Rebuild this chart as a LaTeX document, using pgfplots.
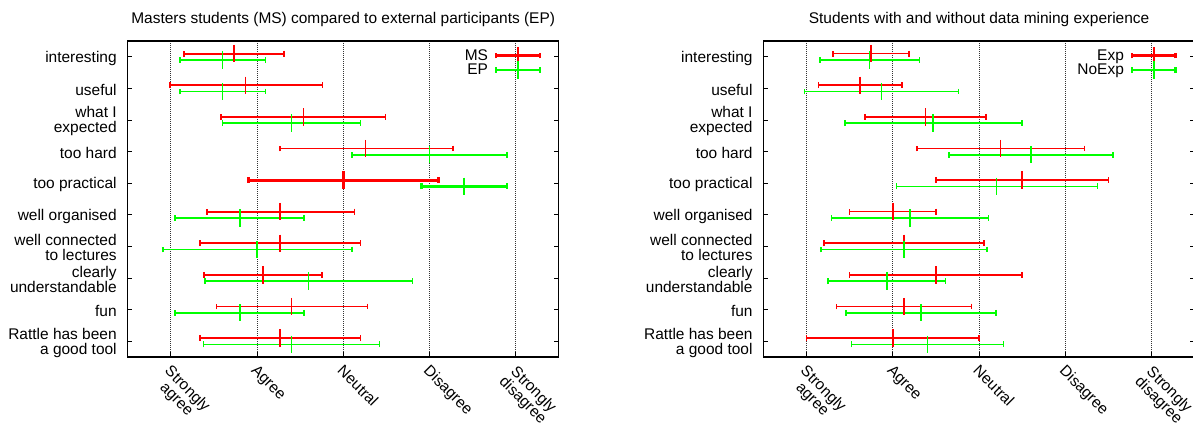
\documentclass[border=0pt]{standalone}
\usepackage{pgfplots}
\pgfplotsset{compat=1.18}
\usepackage{fontspec}
\setmainfont{Liberation Sans}
\definecolor{ebred}{RGB}{255,0,0}
\definecolor{ebgreen}{RGB}{0,255,0}
\newcommand{\lf}{\fontsize{11.6pt}{11.3pt}\selectfont}
\pgfplotsset{
  eb/.style 2 args={forget plot, color=#1, only marks, mark=|, mark size=6.5pt,
    line width=#2, mark options={solid, line width=#2, color=#1},
    error bars/.cd, x dir=both, x explicit, error mark=|,
    error bar style={line width=#2, color=#1},
    error mark options={mark size=2.2pt, line width=#2, color=#1}},
  legeb/.style={color=#1, legend image code/.code={
      \draw[line width=1.8pt,#1] (0pt,0.3pt) -- (32.6pt,0.3pt);
      \draw[line width=1.8pt,#1] (0pt,-1.9pt) -- (0pt,2.5pt);
      \draw[line width=1.8pt,#1] (32.6pt,-1.9pt) -- (32.6pt,2.5pt);
      \draw[line width=1.8pt,#1] (16.3pt,-6.2pt) -- (16.3pt,6.8pt);}},
  common/.style={
    width=323.6pt, height=237pt, scale only axis, anchor=south west,
    xmin=0.5, xmax=5.5, ymin=0.5, ymax=10.5, y dir=reverse,
    xtick={1,2,3,4,5},
    xticklabels={{Strongly\\agree},Agree,Neutral,Disagree,{Strongly\\disagree}},
    ytick={1,2,3,4,5,6,7,8,9,10},
    yticklabels={interesting,useful,{what I\\expected},too hard,too practical,well organised,{well connected\\to lectures},{clearly\\understandable},fun,{Rattle has been\\a good tool}},
    xtick pos=left, ytick pos=both, yticklabel pos=left,
    tick align=inside, major tick length=3.75pt,
    tick style={black, line width=0.6pt},
    xmajorgrids, grid style={black!80, line width=0.6pt, dash pattern=on 0.75pt off 0.75pt},
    axis line style={line width=0.8pt},
    yticklabel style={font=\lf, align=right, inner sep=0pt, xshift=-7.9pt, yshift=-1pt},
    xticklabel style={font=\lf, align=center, inner sep=0pt, yshift=-5pt, xshift=1pt, rotate=-45, anchor=north west},
    title style={font=\lf, at={(0.5,1)}, anchor=base, yshift=7.3pt},
    legend cell align=right, legend plot pos=right,
    legend style={draw=none, fill=none, font=\lf, at={(1,1)}, anchor=north east,
      xshift=-13.3pt, yshift=-3.3pt, inner sep=0pt, row sep=-4pt, column sep=5.3pt,
      nodes={inner sep=0pt}},
  }
}
\begin{document}
\begin{tikzpicture}
\begin{axis}[common, at={(95.6pt,53.25pt)},
  title={Masters students (MS) compared to external participants (EP)}]
\addlegendimage{legeb=ebred}
\addlegendentry{MS}
\addlegendimage{legeb=ebgreen}
\addlegendentry{EP}
% MS (red)
\addplot[eb={ebred}{1.5pt}]  coordinates {(1.74,0.9) -= (0.58,0) += (0.57,0)};
\addplot[eb={ebred}{1.2pt}]  coordinates {(1.87,1.9) -= (0.88,0) += (0.89,0)};
\addplot[eb={ebred}{1.35pt}] coordinates {(2.54,2.9) -= (0.96,0) += (0.95,0)};
\addplot[eb={ebred}{1.2pt}]  coordinates {(3.26,3.9) -= (0.99,0) += (1.01,0)};
\addplot[eb={ebred}{2.25pt}] coordinates {(3.00,4.9) -= (1.10,0) += (1.10,0)};
\addplot[eb={ebred}{1.35pt}] coordinates {(2.27,5.9) -= (0.85,0) += (0.86,0)};
\addplot[eb={ebred}{1.2pt}]  coordinates {(2.27,6.9) -= (0.93,0) += (0.93,0)};
\addplot[eb={ebred}{1.35pt}] coordinates {(2.07,7.9) -= (0.68,0) += (0.68,0)};
\addplot[eb={ebred}{1.2pt}]  coordinates {(2.40,8.9) -= (0.87,0) += (0.88,0)};
\addplot[eb={ebred}{1.35pt}] coordinates {(2.27,9.9) -= (0.93,0) += (0.93,0)};
% EP (green)
\addplot[eb={ebgreen}{1.3pt}]  coordinates {(1.60,1.1) -= (0.49,0) += (0.50,0)};
\addplot[eb={ebgreen}{1.3pt}]  coordinates {(1.60,2.1) -= (0.49,0) += (0.50,0)};
\addplot[eb={ebgreen}{1.05pt}] coordinates {(2.40,3.1) -= (0.80,0) += (0.80,0)};
\addplot[eb={ebgreen}{1.3pt}]  coordinates {(4.00,4.1) -= (0.90,0) += (0.90,0)};
\addplot[eb={ebgreen}{2pt}]    coordinates {(4.40,5.1) -= (0.49,0) += (0.50,0)};
\addplot[eb={ebgreen}{1.3pt}]  coordinates {(1.80,6.1) -= (0.75,0) += (0.75,0)};
\addplot[eb={ebgreen}{1.3pt}]  coordinates {(2.00,7.1) -= (1.09,0) += (1.10,0)};
\addplot[eb={ebgreen}{1.05pt}] coordinates {(2.60,8.1) -= (1.20,0) += (1.20,0)};
\addplot[eb={ebgreen}{1.3pt}]  coordinates {(1.80,9.1) -= (0.75,0) += (0.75,0)};
\addplot[eb={ebgreen}{1.05pt}] coordinates {(2.40,10.1) -= (1.02,0) += (1.02,0)};
\end{axis}
\begin{axis}[common, at={(572.5pt,53.25pt)},
  title={Students with and without data mining experience}]
\addlegendimage{legeb=ebred}
\addlegendentry{Exp}
\addlegendimage{legeb=ebgreen}
\addlegendentry{NoExp}
% Exp (red)
\addplot[eb={ebred}{1.2pt}]  coordinates {(1.75,0.9) -= (0.44,0) += (0.44,0)};
\addplot[eb={ebred}{1.35pt}] coordinates {(1.62,1.9) -= (0.48,0) += (0.49,0)};
\addplot[eb={ebred}{1.35pt}] coordinates {(2.38,2.9) -= (0.70,0) += (0.70,0)};
\addplot[eb={ebred}{1.2pt}]  coordinates {(3.25,3.9) -= (0.97,0) += (0.97,0)};
\addplot[eb={ebred}{1.35pt}] coordinates {(3.50,4.9) -= (1.00,0) += (1.00,0)};
\addplot[eb={ebred}{1.2pt}]  coordinates {(2.00,5.9) -= (0.50,0) += (0.50,0)};
\addplot[eb={ebred}{1.35pt}] coordinates {(2.13,6.9) -= (0.93,0) += (0.93,0)};
\addplot[eb={ebred}{1.25pt}] coordinates {(2.50,7.9) -= (1.00,0) += (1.00,0)};
\addplot[eb={ebred}{1.2pt}]  coordinates {(2.13,8.9) -= (0.78,0) += (0.78,0)};
\addplot[eb={ebred}{1.35pt}] coordinates {(2.00,9.9) -= (1.00,0) += (1.00,0)};
% NoExp (green)
\addplot[eb={ebgreen}{1.3pt}]  coordinates {(1.73,1.1) -= (0.57,0) += (0.58,0)};
\addplot[eb={ebgreen}{1.05pt}] coordinates {(1.87,2.1) -= (0.89,0) += (0.89,0)};
\addplot[eb={ebgreen}{1.3pt}]  coordinates {(2.47,3.1) -= (1.02,0) += (1.03,0)};
\addplot[eb={ebgreen}{1.3pt}]  coordinates {(3.60,4.1) -= (0.95,0) += (0.95,0)};
\addplot[eb={ebgreen}{1.05pt}] coordinates {(3.20,5.1) -= (1.16,0) += (1.17,0)};
\addplot[eb={ebgreen}{1.3pt}]  coordinates {(2.20,6.1) -= (0.91,0) += (0.91,0)};
\addplot[eb={ebgreen}{1.3pt}]  coordinates {(2.13,7.1) -= (0.96,0) += (0.96,0)};
\addplot[eb={ebgreen}{1.3pt}]  coordinates {(1.93,8.1) -= (0.68,0) += (0.68,0)};
\addplot[eb={ebgreen}{1.3pt}]  coordinates {(2.33,9.1) -= (0.87,0) += (0.87,0)};
\addplot[eb={ebgreen}{1.05pt}] coordinates {(2.40,10.1) -= (0.88,0) += (0.88,0)};
\end{axis}
\pgfresetboundingbox
\path[use as bounding box] (0pt,0pt) rectangle (894.75pt,321pt);
\end{tikzpicture}
\end{document}
